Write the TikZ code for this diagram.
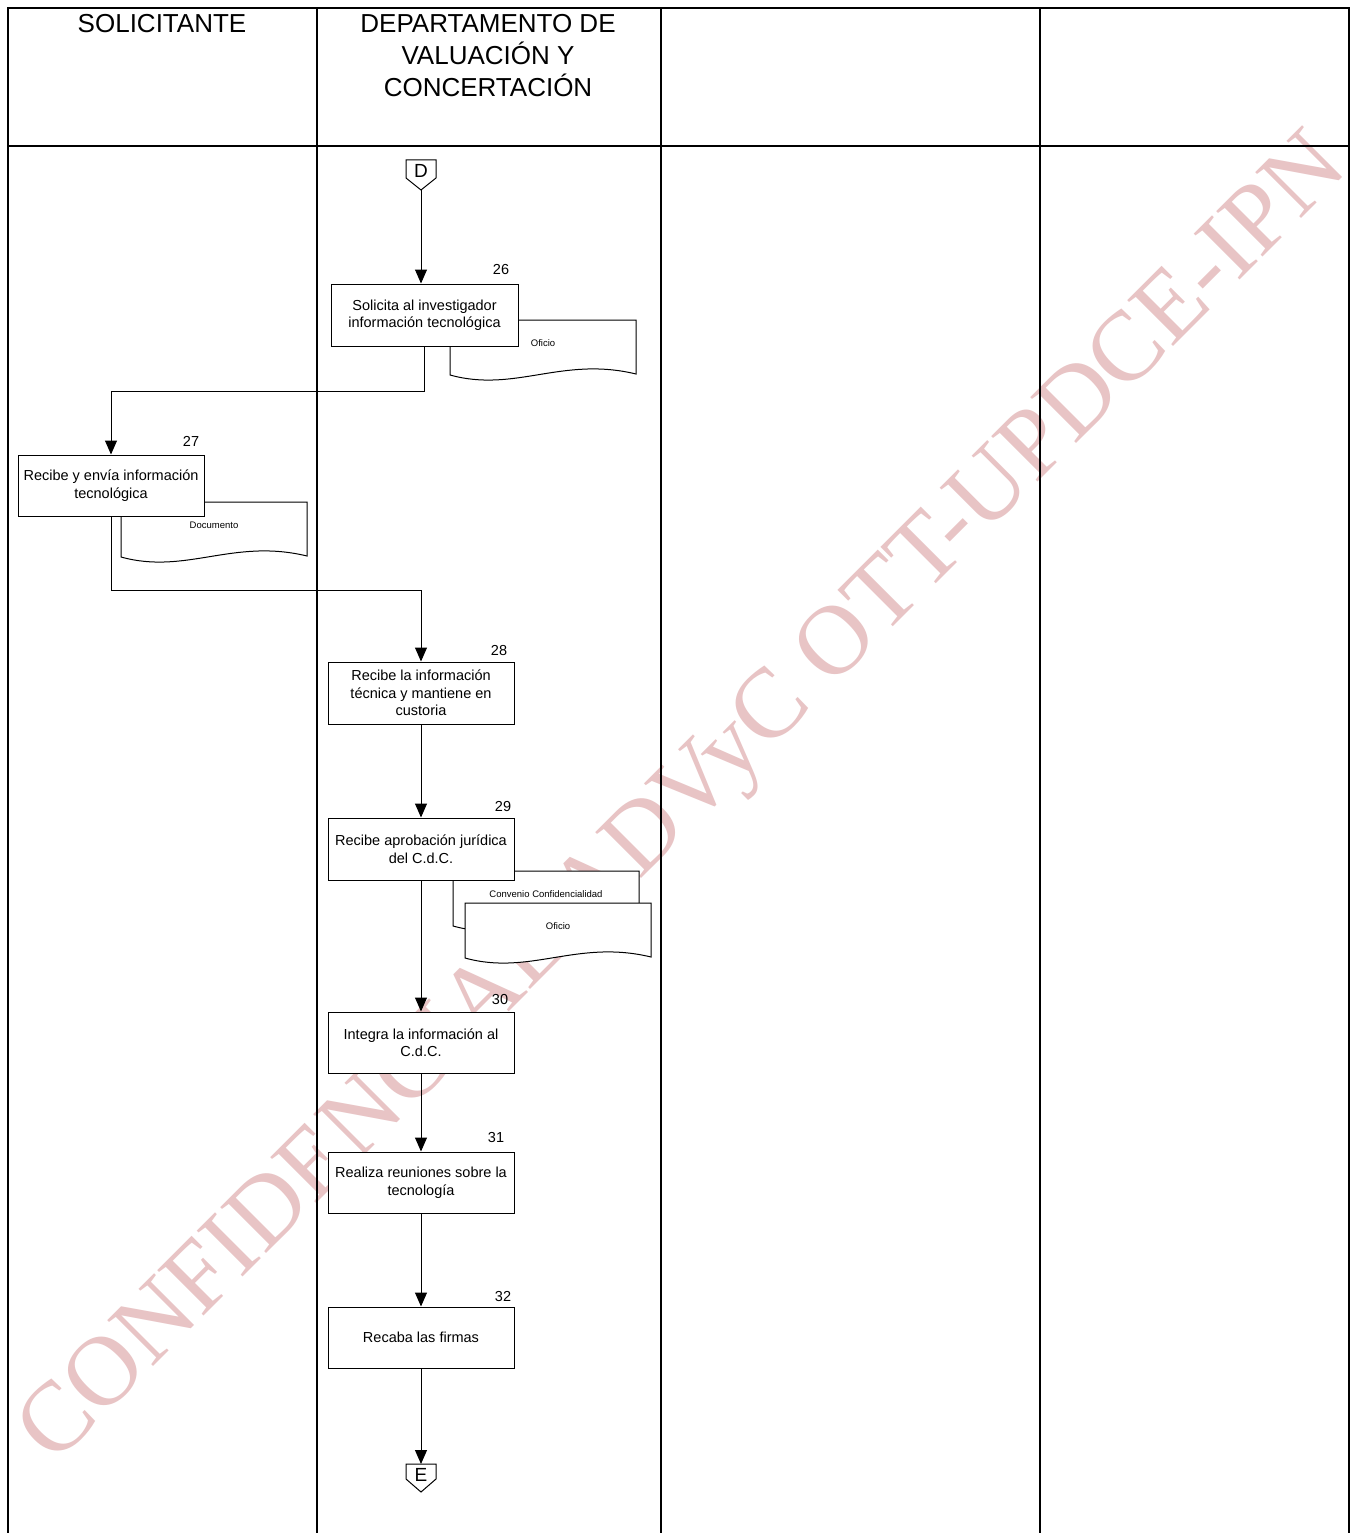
\documentclass[tikz,border=0pt]{standalone}
\usepackage{fontspec}
\setmainfont{Liberation Sans}
\newfontfamily\wmfont{Liberation Serif}
\usetikzlibrary{arrows.meta,calc}
\definecolor{wmpink}{RGB}{232,196,197}
\tikzset{
  frame/.style={line width=2pt},
  stepbox/.style={draw, line width=1pt, fill=white, minimum width=186pt, minimum height=62pt,
    align=center, inner sep=0pt, font=\fontsize{14.5}{17.5}\selectfont},
  num/.style={font=\fontsize{14.5}{17}\selectfont, inner sep=0pt},
  docshape/.style={draw, line width=1pt, fill=white},
  doclabel/.style={font=\fontsize{9.5}{11}\selectfont, inner sep=0pt},
  flow/.style={line width=1pt, -{Triangle[width=12pt,length=14pt]}},
  hdr/.style={font=\fontsize{26}{32}\selectfont, align=center, inner sep=0pt},
  offpage/.style={draw, line width=1pt, fill=white},
  conlabel/.style={font=\fontsize{19}{20}\selectfont, inner sep=0pt},
  watermark/.style={text=wmpink, font=\wmfont\fontsize{99}{99}\selectfont, inner sep=0pt}
}
\newcommand{\docat}[4]{% name, x, y, label
  \begin{scope}[shift={(#2,#3)}]
    \draw[docshape] (0,0) -- (186,0) -- (186,54) .. controls (112,36) and (65,73) .. (0,55) -- cycle;
    \node[doclabel] (#1) at (93,23) {#4};
  \end{scope}}
\begin{document}
\begin{tikzpicture}[x=1pt,y=-1pt]
\useasboundingbox (0,0) rectangle (1356,1533);
\fill[white] (0,0) rectangle (1356,1533);

% watermark
\node[watermark, rotate=45, anchor=base west] (wm) at (54,1466) {CONFIDENCIAL ADVyC OTT-UPDCE-IPN};

% frame and lanes
\draw[frame] (8,1534) -- (8,8) -- (1349,8) -- (1349,1534);
\draw[frame] (8,146) -- (1349,146);
\draw[frame] (317,8) -- (317,1534);
\draw[frame] (661,8) -- (661,1534);
\draw[frame] (1040,8) -- (1040,1534);

% headers
\node[hdr] (h1) at (162,24) {SOLICITANTE};
\node[hdr] (h2) at (488,56) {DEPARTAMENTO DE\\VALUACIÓN Y\\CONCERTACIÓN};

% off-page connector D
\draw[offpage] (406,160) -- (436,160) -- (436,178) -- (421,190) -- (406,178) -- cycle;
\node[conlabel] (D) at (421,171) {D};
\coordinate (Dtip) at (421,190);

% documents
\docat{d26}{450}{320}{Oficio}
\docat{d27}{121}{502}{Documento}
\docat{d29a}{453}{871}{Convenio Confidencialidad}
\docat{d29b}{465}{903}{Oficio}

% process boxes
\node[stepbox, minimum width=187pt] (b26) at (424.5,315) {Solicita al investigador\\información tecnológica};
\node[stepbox, minimum height=61pt] (b27) at (111,485.5) {Recibe y envía información\\tecnológica};
\node[stepbox] (b28) at (421,693) {Recibe la información\\técnica y mantiene en\\custoria};
\node[stepbox] (b29) at (421,849) {Recibe aprobación jurídica\\del C.d.C.};
\node[stepbox, minimum height=61pt] (b30) at (421,1042.5) {Integra la información al\\C.d.C.};
\node[stepbox, minimum height=61pt] (b31) at (421,1182.5) {Realiza reuniones sobre la\\tecnología};
\node[stepbox, minimum height=61pt] (b32) at (421,1337.5) {Recaba las firmas};

% numbers
\node[num] (n26) at (501,270) {26};
\node[num] (n27) at (191,441) {27};
\node[num] (n28) at (499,651) {28};
\node[num] (n29) at (503,806) {29};
\node[num] (n30) at (500,999) {30};
\node[num] (n31) at (496,1137) {31};
\node[num] (n32) at (503,1296) {32};

% off-page connector E
\draw[offpage] (406,1464) -- (436,1464) -- (436,1479) -- (421,1492) -- (406,1479) -- cycle;
\node[conlabel] (E) at (421,1475) {E};
\coordinate (Etop) at (421,1464);

% connectors
\draw[flow] (Dtip) -- (Dtip |- b26.north);
\draw[flow] (b26.south) -- ++(0,45) -| (b27.north);
\draw[flow] (b27.south) -- ++(0,74) -| (b28.north);
\draw[flow] (b28.south) -- (b29.north);
\draw[flow] (b29.south) -- (b30.north);
\draw[flow] (b30.south) -- (b31.north);
\draw[flow] (b31.south) -- (b32.north);
\draw[flow] (b32.south) -- (Etop);
\end{tikzpicture}
\end{document}
